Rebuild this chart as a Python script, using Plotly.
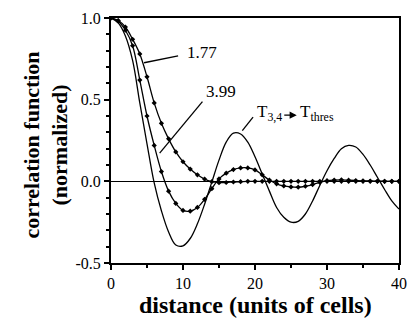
import plotly.graph_objects as go

# distance (units of cells)
distance = list(range(0, 41))

# T3,4 -> Tthres (solid, oscillating)
corr_thres = [1.00, 0.97, 0.89, 0.74, 0.48, 0.23, -0.01, -0.18, -0.31, -0.39,
              -0.395, -0.35, -0.26, -0.14, -0.005, 0.13, 0.24, 0.295, 0.29, 0.24,
              0.15, 0.045, -0.06, -0.16, -0.22, -0.25, -0.245, -0.20, -0.12, -0.025,
              0.065, 0.14, 0.20, 0.22, 0.21, 0.165, 0.10, 0.025, -0.05, -0.12,
              -0.17]

# 3.99 (dots + fit)
corr_399 = [1.0, 0.98, 0.925, 0.83, 0.62, 0.40, 0.22, 0.06, -0.06, -0.135,
            -0.178, -0.183, -0.16, -0.11, -0.045, 0.015, 0.05, 0.072, 0.082, 0.082,
            0.07, 0.04, 0.008, -0.015, -0.028, -0.034, -0.036, -0.03, -0.02, -0.006,
            0.004, 0.008, 0.009, 0.007, 0.005, 0.003, 0.002, 0.001, 0.0, 0.0,
            0.0]

# 1.77 (dots + fit)
corr_177 = [1.0, 0.985, 0.945, 0.87, 0.78, 0.64, 0.48, 0.355, 0.26, 0.18,
            0.12, 0.075, 0.04, 0.014, -0.002, -0.008, -0.007, -0.004, -0.002, 0.0,
            0.0, 0.0, 0.0, 0.0, 0.0, 0.0, 0.0, 0.0, 0.0, 0.0,
            0.0, 0.0, 0.0, 0.0, 0.0, 0.0, 0.0, 0.0, 0.0, 0.0,
            0.0]

x_ticks = [0, 10, 20, 30, 40]
x_ticklabels = ["0", "10", "20", "30", "40"]
y_ticks = [-0.5, 0.0, 0.5, 1.0]
y_ticklabels = ["-0.5", "0.0", "0.5", "1.0"]

FONT = "Liberation Serif"
TICKFONT = dict(family="Times New Roman, Liberation Serif, serif", size=16, color="black")

fig = go.Figure()
fig.add_trace(go.Scatter(x=distance, y=corr_thres, mode="lines",
                         line=dict(color="black", width=1.3, shape="spline"),
                         showlegend=False, hoverinfo="skip"))
for series in (corr_399, corr_177):
    fig.add_trace(go.Scatter(x=distance, y=series, mode="lines+markers",
                             line=dict(color="black", width=1.3, shape="spline"),
                             marker=dict(symbol="diamond", size=4, color="black"),
                             showlegend=False, hoverinfo="skip"))

fig.update_layout(
    width=417, height=324,
    margin=dict(l=111, r=10, t=11, b=61),
    paper_bgcolor="white", plot_bgcolor="white",
    font=dict(family=FONT, color="black", size=16),
    xaxis=dict(range=[0, 40], tickmode="array", tickvals=x_ticks,
               ticktext=x_ticklabels, zeroline=False, showgrid=False,
               showline=True, linecolor="black", linewidth=2, mirror=True,
               ticks="outside", ticklen=5, tickwidth=1.5, tickcolor="black",
               tickfont=TICKFONT,
               minor=dict(dtick=5, ticks="outside", ticklen=3, tickcolor="black")),
    yaxis=dict(range=[-0.5, 1.0], tickmode="array", tickvals=y_ticks,
               ticktext=y_ticklabels, zeroline=True, zerolinecolor="black",
               zerolinewidth=1, showgrid=False,
               showline=True, linecolor="black", linewidth=2, mirror=True,
               ticks="outside", ticklen=5, tickwidth=1.5, tickcolor="black",
               tickfont=TICKFONT,
               minor=dict(dtick=0.1, ticks="outside", ticklen=3, tickcolor="black")),
    shapes=[
        dict(type="line", xref="x", yref="y", x0=4.59, y0=0.726, x1=9.32, y1=0.768,
             line=dict(color="black", width=1.3)),
        dict(type="line", xref="x", yref="y", x0=6.76, y0=0.173, x1=12.70, y1=0.488,
             line=dict(color="black", width=1.3)),
        dict(type="line", xref="x", yref="y", x0=18.24, y0=0.31, x1=19.73, y1=0.393,
             line=dict(color="black", width=1.3)),
    ],
    annotations=[
        dict(text="1.77", x=10.27, y=0.79, xref="x", yref="y", xanchor="left",
             yanchor="middle", showarrow=False, font=dict(family=FONT, size=17)),
        dict(text="3.99", x=12.97, y=0.55, xref="x", yref="y", xanchor="left",
             yanchor="middle", showarrow=False, font=dict(family=FONT, size=17)),
        dict(text="T<sub>3,4</sub>", x=20.0, y=0.42,
             xref="x", yref="y", xanchor="left", yanchor="middle",
             showarrow=False, font=dict(family=FONT, size=17)),
        dict(text="", x=25.8, y=0.405, xref="x", yref="y", showarrow=True,
             ax=-14, ay=0, arrowhead=2, arrowsize=1.1, arrowwidth=1.3,
             arrowcolor="black", standoff=0, startstandoff=0),
        dict(text="T<sub>thres</sub>", x=25.95, y=0.42,
             xref="x", yref="y", xanchor="left", yanchor="middle",
             showarrow=False, font=dict(family=FONT, size=17)),
        dict(text="<b>distance (units of cells)</b>", x=0.5, y=-0.172,
             xref="paper", yref="paper", xanchor="center", yanchor="middle",
             showarrow=False, font=dict(family=FONT, size=24)),
        dict(text="<b>correlation function<br>(normalized)</b>", x=-0.225, y=0.48,
             xref="paper", yref="paper", xanchor="center", yanchor="middle",
             textangle=-90, showarrow=False, font=dict(family=FONT, size=22)),
    ],
)

fig.write_html("out.html")
